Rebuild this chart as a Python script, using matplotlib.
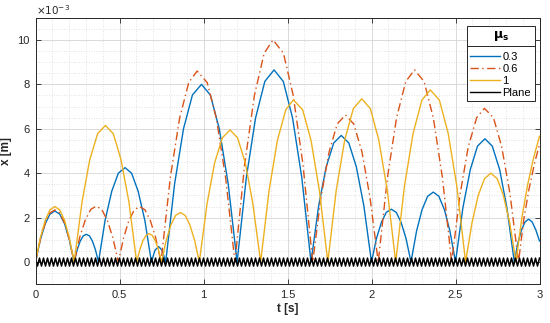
import matplotlib.pyplot as plt
from matplotlib.ticker import MultipleLocator
from matplotlib.lines import Line2D
import numpy as np

plt.rcParams['font.family'] = ['Liberation Sans', 'DejaVu Sans']
plt.rcParams['mathtext.fontset'] = 'dejavusans'

# mu_s = 0.3 (time [s], displacement [x1e-3 m])
t_03 = [0, .029, .058, .086, .115, .144, .173, .201, .23,
        .248, .266, .284, .302, .321, .339, .357, .375,
        .414, .454, .493, .533, .572, .611, .651, .69,
        .711, .733, .754, .775,
        .828, .881, .934, .988, 1.041, 1.094, 1.147, 1.2,
        1.255, 1.31, 1.365, 1.42, 1.475, 1.53, 1.585, 1.64,
        1.685, 1.73, 1.775, 1.82, 1.865, 1.91, 1.955, 2.0,
        2.029, 2.059, 2.088, 2.118, 2.147, 2.176, 2.206, 2.235,
        2.268, 2.301, 2.334, 2.368, 2.401, 2.434, 2.467, 2.5,
        2.544, 2.588, 2.631, 2.675, 2.719, 2.763, 2.806, 2.85,
        2.871, 2.893, 2.914, 2.935, 2.956, 2.978, 3.0]
x_03 = [0, 1.01, 1.73, 2.16, 2.3, 2.16, 1.73, 1.01, 0,
        .55, .94, 1.18, 1.25, 1.18, .94, .55, 0,
        1.87, 3.19, 4.0, 4.25, 4.0, 3.19, 1.87, 0,
        .53, .7, .53, 0,
        3.52, 6.0, 7.52, 8.0, 7.52, 6.0, 3.52, 0,
        3.81, 6.49, 8.13, 8.65, 8.13, 6.49, 3.81, 0,
        2.51, 4.28, 5.36, 5.7, 5.36, 4.28, 2.51, 0,
        1.05, 1.79, 2.24, 2.38, 2.24, 1.79, 1.05, 0,
        1.39, 2.36, 2.96, 3.15, 2.96, 2.36, 1.39, 0,
        2.44, 4.16, 5.22, 5.55, 5.22, 4.16, 2.44, 0,
        .85, 1.45, 1.81, 1.93, 1.81, 1.45, .95]

# mu_s = 0.6
t_06 = [0, .029, .058, .086, .115, .144, .173, .201, .23,
        .263, .296, .329, .362, .394, .427, .46, .493,
        .525, .556, .588, .62, .652, .683, .715, .747,
        .802, .857, .912, .962, 1.022, 1.077, 1.132, 1.187,
        1.245, 1.303, 1.361, 1.414, 1.476, 1.534, 1.592, 1.65,
        1.699, 1.748, 1.796, 1.845, 1.894, 1.943, 1.991, 2.04,
        2.095, 2.149, 2.204, 2.256, 2.313, 2.368, 2.422, 2.477,
        2.527, 2.576, 2.626, 2.672, 2.726, 2.775, 2.825, 2.875,
        2.906, 2.938, 2.969, 3.0]
x_06 = [0, 1.03, 1.76, 2.21, 2.35, 2.21, 1.76, 1.03, 0,
        1.11, 1.89, 2.37, 2.52, 2.37, 1.89, 1.11, 0,
        1.1, 1.88, 2.35, 2.5, 2.35, 1.88, 1.1, 0,
        3.78, 6.45, 8.08, 8.6, 8.08, 6.45, 3.78, 0,
        4.4, 7.5, 9.4, 10.0, 9.4, 7.5, 4.4, 0,
        2.91, 4.97, 6.22, 6.62, 6.22, 4.97, 2.91, 0,
        3.81, 6.49, 8.13, 8.65, 8.13, 6.49, 3.81, 0,
        3.04, 5.19, 6.5, 6.92, 6.5, 5.19, 3.04, 0,
        1.9, 3.3, 4.4, 5.3]

# mu_s = 1
t_1 = [0, .029, .058, .086, .115, .144, .173, .201, .23,
       .277, .323, .37, .416, .463, .509, .556, .602,
       .621, .639, .658, .676, .695, .713, .732, .75,
       .778, .806, .834, .863, .891, .919, .947, .975,
       1.021, 1.066, 1.112, 1.158, 1.203, 1.249, 1.294, 1.34,
       1.39, 1.44, 1.49, 1.535, 1.59, 1.64, 1.69, 1.74,
       1.79, 1.841, 1.892, 1.942, 1.993, 2.043, 2.094, 2.144,
       2.196, 2.248, 2.3, 2.35, 2.404, 2.456, 2.508, 2.56,
       2.598, 2.635, 2.673, 2.71, 2.748, 2.785, 2.823, 2.86,
       2.895, 2.93, 2.965, 3.0]
x_1 = [0, 1.1, 1.88, 2.35, 2.5, 2.35, 1.88, 1.1, 0,
       2.71, 4.61, 5.78, 6.15, 5.78, 4.61, 2.71, 0,
       .56, .96, 1.2, 1.28, 1.2, .96, .56, 0,
       .98, 1.67, 2.1, 2.23, 2.1, 1.67, .98, 0,
       2.62, 4.46, 5.59, 5.95, 5.59, 4.46, 2.62, 0,
       3.21, 5.48, 6.86, 7.3, 6.86, 5.48, 3.21, 0,
       3.23, 5.51, 6.91, 7.35, 6.91, 5.51, 3.23, 0,
       3.41, 5.81, 7.29, 7.75, 7.29, 5.81, 3.41, 0,
       1.76, 3.0, 3.76, 4.0, 3.76, 3.0, 1.76, 0,
       2.0, 3.5, 4.7, 5.66]

# plane: one tooth (top, bottom) repeated every half period
plane_tooth = [0.18, -0.18]
plane_step = 1 / 84
plane_t = np.arange(0, 3.0 + 1e-9, plane_step)
plane_x = np.resize(plane_tooth, len(plane_t))

labels = ['0.3', '0.6', '1', 'Plane']
c_03 = '#0072BD'
c_06 = '#D95319'
c_1 = '#EDB120'
dashdot = (0, (6, 2.5, 1, 2.5))

W, H = 550, 323
fig = plt.figure(figsize=(W / 100, H / 100), dpi=100)
ax = fig.add_axes([35.5 / W, 1 - 284.3 / H, 504 / W, 266.6 / H])

ax.plot(t_03, x_03, color=c_03, lw=1.0)
ax.plot(t_06, x_06, color=c_06, lw=1.0, ls=dashdot)
ax.plot(t_1, x_1, color=c_1, lw=1.0)
ax.plot(plane_t, plane_x, color='black', lw=1.1)

ax.set_xlim(0, 3)
ax.set_ylim(-1, 11)
ax.xaxis.set_major_locator(MultipleLocator(0.5))
ax.xaxis.set_minor_locator(MultipleLocator(0.1))
ax.yaxis.set_major_locator(MultipleLocator(2))
ax.yaxis.set_minor_locator(MultipleLocator(0.5))
ax.xaxis.set_major_formatter(plt.FuncFormatter(lambda v, p: f'{v:g}'))
ax.yaxis.set_major_formatter(plt.FuncFormatter(lambda v, p: f'{v:g}'))

ax.grid(which='major', color='#d4d4d4', lw=0.6, ls='-')
ax.grid(which='minor', color='#d8d8d8', lw=0.6, ls=(0, (1, 2)))
ax.set_axisbelow(True)
ax.tick_params(which='both', direction='in', top=True, right=True,
               labelsize=8, color='#262626', labelcolor='#262626')
ax.tick_params(which='major', length=3.5, width=0.6, pad=4)
ax.tick_params(which='minor', length=0)
for s in ax.spines.values():
    s.set_color('#262626')
    s.set_linewidth(0.7)

ax.set_xlabel('t [s]', fontsize=8.5, fontweight='bold', color='#262626', labelpad=2)
ax.set_ylabel('x [m]', fontsize=8.5, fontweight='bold', color='#262626', labelpad=4)
ax.text(0, 1.004, r'$\times10^{-3}$', transform=ax.transAxes, fontsize=7.5,
        color='#262626', ha='left', va='bottom')

handles = [Line2D([], [], color=c_03, lw=1.0),
           Line2D([], [], color=c_06, lw=1.0, ls=dashdot),
           Line2D([], [], color=c_1, lw=1.0),
           Line2D([], [], color='black', lw=1.0)]
leg = ax.legend(handles, labels, loc='upper left',
                bbox_to_anchor=(467 / W, 1 - 26 / H), bbox_transform=fig.transFigure,
                title=r'$\mathbf{\mu_s}$', fontsize=8, title_fontsize=9,
                fancybox=False, framealpha=1, edgecolor='#262626',
                handlelength=2.7, handletextpad=0.2, borderpad=0.3,
                borderaxespad=0, labelspacing=0.18)
leg.get_frame().set_linewidth(0.7)
leg._legend_box.sep = 6

# separator under the legend title
fig.canvas.draw()
bb = leg.get_frame().get_window_extent()
tb = leg.get_title().get_window_extent()
y_sep = tb.y0 - 2.5
fig.add_artist(Line2D([bb.x0 / W, bb.x1 / W], [y_sep / H, y_sep / H],
                      transform=fig.transFigure, color='#262626', lw=0.7))

fig.savefig('out.png', dpi=100)
